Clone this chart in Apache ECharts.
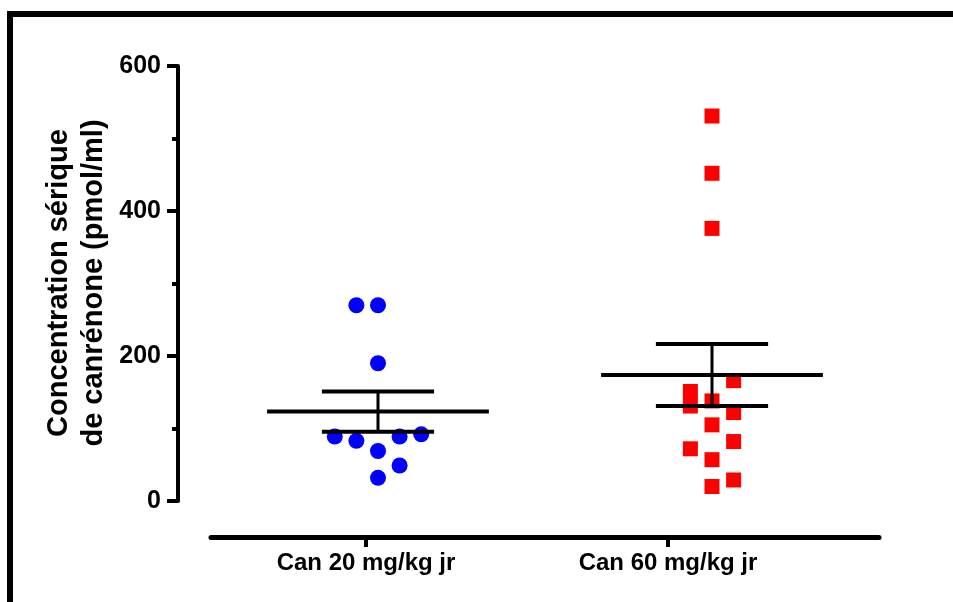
<!DOCTYPE html>
<html>
<head>
<meta charset="utf-8">
<script src="https://cdn.jsdelivr.net/npm/echarts@6/dist/echarts.min.js"></script>
<style>html,body{margin:0;padding:0;background:#fff;}#chart{width:953px;height:602px;}</style>
</head>
<body>
<div id="chart"></div>
<script>
// ---- data ----
const categories = ['Can 20 mg/kg jr', 'Can 60 mg/kg jr'];
const can20Values = [270, 270, 190, 89, 83, 69, 89, 92, 49, 32];
const can20Slots  = [-1, 0, 0, -2, -1, 0, 1, 2, 1, 0];
const can60Values = [531, 452, 376, 166, 151, 131, 138, 122, 105, 82, 72, 57, 29, 20];
const can60Slots  = [0, 0, 0, 1, -1, -1, 0, 1, 0, 1, -1, 0, 1, 0];
const yTicks = [0, 200, 400, 600];
const yTitle = 'Concentration sérique\nde canrénone (pmol/ml)';

// ---- helpers ----
const JITTER = 0.0647;
function points(values, slots, pos) {
  return values.map((v, i) => [pos + slots[i] * JITTER, v]);
}
function stats(values, pos) {
  const n = values.length;
  const mean = values.reduce((a, b) => a + b, 0) / n;
  const sd = Math.sqrt(values.reduce((a, b) => a + (b - mean) * (b - mean), 0) / (n - 1));
  return [pos, mean, sd / Math.sqrt(n)];
}
const FONT = 'Liberation Sans, Arial, sans-serif';

const chart = echarts.init(document.getElementById('chart'), null, {renderer: 'canvas'});
chart.setOption({
  animation: false,
  backgroundColor: '#fff',
  grid: [
    {left: 211, right: 74, top: 66, bottom: 101},
    {left: 215, width: 604, top: 66, bottom: 101}
  ],
  xAxis: [
    {type: 'value', gridIndex: 0, min: 0.5, max: 2.5, interval: 0.5, offset: 36,
     axisLine: {show: true, onZero: false, lineStyle: {color: '#000', width: 5}},
     axisTick: {show: false}, axisLabel: {show: false}, splitLine: {show: false}},
    {type: 'category', gridIndex: 1, data: categories, offset: 36, boundaryGap: true,
     axisLine: {show: false, onZero: false},
     axisTick: {show: true, alignWithLabel: true, length: 10, lineStyle: {color: '#000', width: 4}},
     axisLabel: {show: true, margin: 14, color: '#000', fontFamily: FONT, fontWeight: 'bold', fontSize: 24}}
  ],
  yAxis: [
    {type: 'value', gridIndex: 0, min: yTicks[0], max: yTicks[yTicks.length - 1], interval: yTicks[1] - yTicks[0], offset: 33,
     axisLine: {show: true, onZero: false, lineStyle: {color: '#000', width: 4}},
     axisTick: {show: true, length: 11, lineStyle: {color: '#000', width: 4}},
     minorTick: {show: true, splitNumber: 2, length: 6, lineStyle: {color: '#000', width: 4}},
     axisLabel: {margin: 17, color: '#000', fontFamily: FONT, fontWeight: 'bold', fontSize: 25},
     splitLine: {show: false}},
    {type: 'value', gridIndex: 1, min: 0, max: 600, show: false}
  ],
  series: [
    {type: 'scatter', xAxisIndex: 0, yAxisIndex: 0, symbol: 'circle', symbolSize: 16,
     itemStyle: {color: '#0000ff', opacity: 1}, data: points(can20Values, can20Slots, 1), z: 2},
    {type: 'scatter', xAxisIndex: 0, yAxisIndex: 0, symbol: 'rect', symbolSize: 15,
     itemStyle: {color: '#ff0000', opacity: 1}, data: points(can60Values, can60Slots, 2), z: 2},
    {type: 'custom', xAxisIndex: 0, yAxisIndex: 0, z: 5,
     data: [stats(can20Values, 1), stats(can60Values, 2)],
     renderItem: function (params, api) {
       const x = api.value(0), m = api.value(1), s = api.value(2);
       const mL = api.coord([x - 0.332, m]), mR = api.coord([x + 0.332, m]);
       const tL = api.coord([x - 0.168, m + s]), tR = api.coord([x + 0.168, m + s]);
       const bL = api.coord([x - 0.168, m - s]), bR = api.coord([x + 0.168, m - s]);
       const st = {stroke: '#000', lineWidth: 4};
       return {type: 'group', children: [
         {type: 'line', shape: {x1: mL[0], y1: mL[1], x2: mR[0], y2: mR[1]}, style: {stroke: '#000', lineWidth: 4}},
         {type: 'line', shape: {x1: tL[0], y1: tL[1], x2: tR[0], y2: tR[1]}, style: st},
         {type: 'line', shape: {x1: bL[0], y1: bL[1], x2: bR[0], y2: bR[1]}, style: st},
         {type: 'line', shape: {x1: (tL[0] + tR[0]) / 2, y1: tL[1], x2: (bL[0] + bR[0]) / 2, y2: bL[1]}, style: {stroke: '#000', lineWidth: 3}}
       ]};
     }}
  ],
  graphic: [
    {type: 'line', shape: {x1: 7, y1: 14, x2: 953, y2: 14}, style: {stroke: '#000', lineWidth: 6}},
    {type: 'line', shape: {x1: 10, y1: 11, x2: 10, y2: 602}, style: {stroke: '#000', lineWidth: 6}},
    {type: 'text', x: 76, y: 283, rotation: Math.PI / 2,
     style: {text: yTitle, fill: '#000', font: 'bold 29px Liberation Sans, Arial, sans-serif',
             textAlign: 'center', textVerticalAlign: 'middle', lineHeight: 35}}
  ]
});
</script>
</body>
</html>
